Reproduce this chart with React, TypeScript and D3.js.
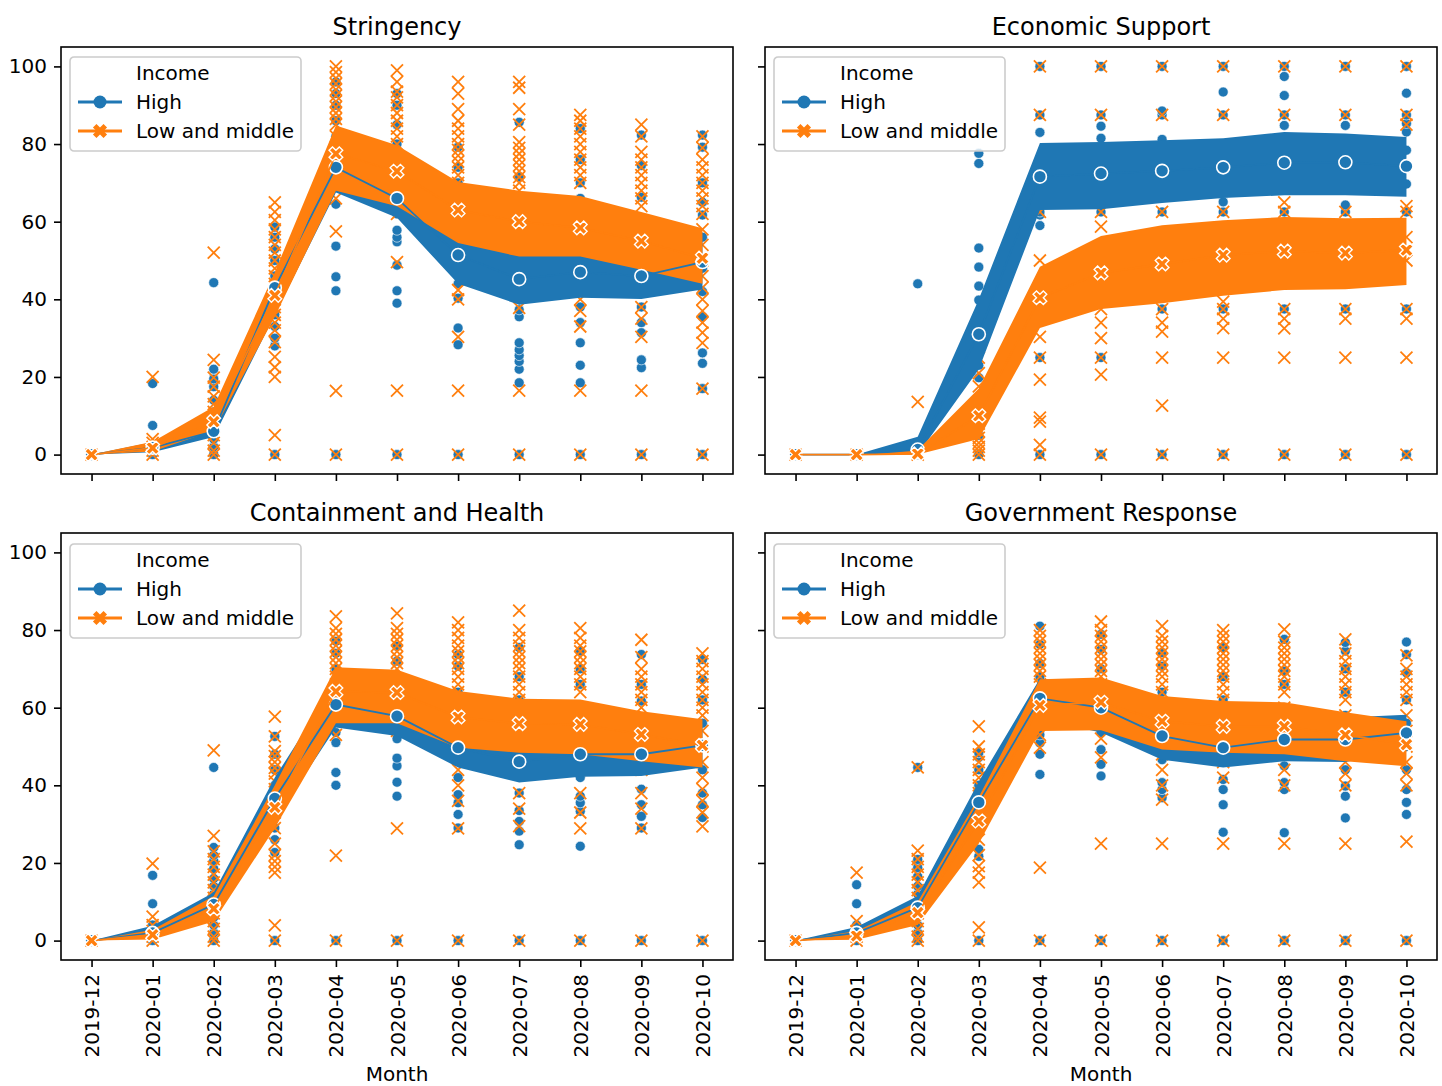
import * as d3 from "d3";
import { useEffect, useRef } from "react";

const months = ["2019-12", "2020-01", "2020-02", "2020-03", "2020-04", "2020-05", "2020-06", "2020-07", "2020-08", "2020-09", "2020-10"];
const yTicks = [0, 20, 40, 60, 80, 100];
const legendTitle = "Income";
const groupNames = ["High", "Low and middle"];

// Stringency
const stringencyHighMean = [0, 1.8, 6, 43, 74, 66, 51.4, 45.2, 47, 46, 49.6];
const stringencyHighLo = [0, 0.6, 4.5, 36, 67.5, 61, 44, 38.6, 40.4, 40.1, 42.5];
const stringencyHighHi = [0, 3.2, 8.5, 46.5, 80.5, 71, 58.8, 51.8, 53.6, 51.9, 56.7];
const stringencyLowMean = [0, 1.7, 8.5, 41, 77.5, 73, 63, 60, 58.4, 55, 50.6];
const stringencyLowLo = [0, 0.8, 6.2, 35.5, 68, 64, 54.5, 51, 51, 47.6, 44];
const stringencyLowHi = [0, 3.3, 12.3, 47, 84.8, 79.7, 70.2, 68, 66.6, 62.5, 58.3];
const stringencyHighPoints = [
  [0],
  [0, 1, 2.5, 7.5, 18.3],
  [0, 2, 4, 6, 8, 11, 14, 17.5, 19.5, 22, 44.3],
  [0, 28, 30, 33, 36, 40, 43, 46, 50, 53, 56, 58.6],
  [0, 42.2, 45.8, 53.7, 64.5, 70, 74, 78, 82, 86, 90, 93, 96],
  [0, 39, 42.2, 48.8, 54.8, 56, 57.8, 62, 66, 70, 75, 80, 85, 90, 93],
  [0, 28.3, 32.6, 40.3, 44, 48, 55, 60, 65, 70, 74, 79.2],
  [0, 18.5, 22, 24, 25.5, 27, 28.8, 35.5, 37.3, 45, 55, 62, 71.5, 85.6],
  [0, 18.5, 23, 28.8, 34, 38, 45, 52, 60, 66, 70, 76, 84],
  [0, 22.4, 24.4, 31.4, 34, 38, 44, 52, 58, 66.3, 74.5, 82.3],
  [0, 17, 23.5, 26.2, 35.5, 42, 48, 56, 61.7, 65, 70, 79.2, 82.3],
];
const stringencyLowPoints = [
  [0],
  [0, 1, 2, 3, 4, 20],
  [0, 1, 3, 5, 7, 9, 11, 13, 15, 17.5, 19.8, 24.4, 52],
  [0, 5, 20, 22.5, 25.2, 29, 32, 34, 36, 38, 40, 42, 44, 46, 48, 50, 52, 54, 56, 58, 60.4, 62.5, 65],
  [0, 16.4, 57.5, 66, 72, 78, 82, 85, 86.5, 88, 89.5, 91, 92.5, 94, 95.5, 97, 98.5, 100],
  [0, 16.5, 49.6, 62, 68, 74, 80, 82, 84, 86, 88, 90, 92, 93.5, 96, 99],
  [0, 16.5, 30.3, 40, 42.4, 50, 58, 66, 70, 72, 74, 75.5, 77, 78.5, 80, 82, 84, 86, 89, 93, 96],
  [0, 16.5, 37.8, 45, 55, 62, 68, 70, 71.5, 73, 74.5, 76, 77.5, 79, 80.5, 85, 89, 94.5, 96],
  [0, 16.5, 33, 37, 40, 48, 56, 64, 70, 72, 74, 76, 78, 80, 82, 84, 86, 87.5],
  [0, 16.5, 30.3, 35, 38, 45, 52, 60, 64, 66, 68, 70, 72, 74, 76, 78, 82, 85],
  [0, 17, 28.8, 31.4, 34, 37, 40, 43, 46, 50, 54, 58, 62, 64, 66, 68, 70, 72, 74, 76, 79, 82],
];

// Economic Support
const econHighMean = [0, 0, 1.3, 31, 71.6, 72.4, 73.1, 74, 75.2, 75.3, 74.3];
const econHighLo = [0, 0, 0, 22, 63, 63.2, 64.8, 66.1, 66.8, 66.8, 66.4];
const econHighHi = [0, 0, 4.6, 40, 80.3, 80.5, 81, 81.5, 83.1, 82.7, 81.8];
const econLowMean = [0, 0, 0.2, 10, 40.4, 46.8, 49.1, 51.4, 52.4, 51.9, 52.7];
const econLowLo = [0, 0, 0, 4, 32.6, 37.5, 39, 40.9, 42.4, 42.6, 43.7];
const econLowHi = [0, 0, 1.2, 17, 48.4, 56.3, 59.1, 60.4, 61.2, 60.9, 61];
const econHighPoints = [
  [0],
  [0],
  [0, 44],
  [0, 5, 10, 15, 19.8, 23, 27, 31, 35, 39.8, 43.4, 48.3, 53.2, 75, 77.6],
  [0, 25, 37.5, 59, 61.7, 62.5, 83, 87.5, 100],
  [0, 25, 62.5, 81.5, 84.6, 87.5, 100],
  [0, 37.5, 62.5, 81.2, 87.5, 88.5, 100],
  [0, 37.5, 62.5, 65.1, 87.5, 93.4, 100],
  [0, 37.5, 62.5, 84.8, 87.5, 92.5, 97.4, 100],
  [0, 37.5, 62.5, 64.3, 84.8, 87.5, 100],
  [0, 37.5, 62.5, 69.7, 78.4, 83.1, 85.3, 87.5, 93.1, 100],
];
const econLowPoints = [
  [0],
  [0],
  [0, 13.6],
  [0, 1, 2, 3, 4.3, 6, 8, 12.5, 17.6, 21, 25],
  [0, 2.5, 8.5, 9.5, 19.3, 25, 30.3, 37.5, 50, 62.5, 87.5, 100],
  [0, 20.6, 25, 30, 34, 37.5, 58.7, 62.5, 87.5, 100],
  [0, 12.6, 25, 31.7, 34, 37.5, 62.5, 87.5, 100],
  [0, 25, 32.6, 35, 37.5, 39.4, 62.5, 87.5, 100],
  [0, 25, 32.5, 35, 37.5, 62.5, 65, 87.5, 100],
  [0, 25, 35, 37.5, 62.5, 87.5, 100],
  [0, 25, 35, 37.5, 50, 56, 62.5, 64, 85, 87.5, 100],
];

// Containment and Health
const chHighMean = [0, 2, 9.3, 36.6, 60.8, 57.8, 49.7, 46.1, 48, 48, 50.3];
const chHighLo = [0, 0.8, 6.5, 31, 54.9, 52.7, 44.6, 40.7, 42.2, 42.4, 44.6];
const chHighHi = [0, 3.8, 12.4, 42, 66.7, 62.9, 54.8, 51.5, 53.8, 53.6, 56];
const chLowMean = [0, 1.5, 8.2, 34.3, 64.2, 63.9, 57.6, 55.9, 55.7, 53.1, 50.3];
const chLowLo = [0, 0.3, 4.9, 29, 56, 56, 49.7, 48.4, 48, 46.2, 44.6];
const chLowHi = [0, 2.8, 11.5, 40, 70.4, 69.8, 64.3, 62.3, 62.1, 59.1, 57];
const chHighPoints = [
  [0],
  [0, 2, 4, 9.5, 16.8],
  [0, 2, 4, 6, 8, 12, 14, 16, 18.5, 20.5, 22, 24, 44.6],
  [0, 22.7, 26, 29, 32, 36, 40, 44, 48, 52.6],
  [0, 40, 43.3, 51, 53.6, 62, 66, 70, 74, 77.1],
  [0, 37.2, 40.8, 45, 47, 52, 60, 66, 72, 75.8],
  [0, 29, 32.5, 35.5, 37.6, 42, 50, 58, 64, 70.7, 73.7],
  [0, 24.7, 28.2, 30.7, 33.5, 38, 45, 55, 62, 68, 75.5],
  [0, 24.3, 33.3, 35.5, 37.2, 42, 52, 60, 66, 70, 74.6],
  [0, 29, 32, 35, 39, 44, 52, 61.7, 66, 73.7],
  [0, 31.7, 35, 38, 44, 50, 56, 62, 67.3, 72.4],
];
const chLowPoints = [
  [0],
  [0, 1, 2.5, 4, 6.2, 19.8],
  [0, 1, 3, 5, 7, 9, 11, 13, 15, 17, 19, 21, 23, 27, 49],
  [0, 3.9, 17.5, 19, 20.5, 22, 25, 29, 33, 37, 39, 41, 43, 44.5, 46, 47.5, 48.8, 52.6, 57.7],
  [0, 21.9, 53, 58, 62, 66, 68, 70, 71.5, 73, 74.5, 76, 77.5, 79, 80.5, 83.5],
  [0, 28.9, 54, 60, 66, 70, 71.5, 73, 74.5, 76, 77.5, 79, 80.5, 84.3],
  [0, 28.9, 36, 40, 44, 50, 58, 64, 66, 68, 70, 71.5, 73, 74.5, 76, 78, 80, 82],
  [0, 29.5, 34, 38, 44, 50, 56, 62, 64, 66, 68, 70, 71.5, 73, 74.5, 76, 78, 80, 85],
  [0, 28.9, 33, 38, 44, 52, 60, 64, 66, 68, 70, 71.5, 73, 74.5, 76, 78, 80.5],
  [0, 28.9, 34, 38, 44, 50, 56, 60, 62, 64, 66, 68, 70, 73, 77.5],
  [0, 29.4, 33, 36, 39, 42, 46, 50, 54, 58, 60, 62, 64, 66, 68, 70, 72, 74],
];

// Government Response
const grHighMean = [0, 2, 8.5, 35.6, 62.4, 60, 52.7, 49.7, 51.8, 51.8, 53.5];
const grHighLo = [0, 0.8, 5.5, 30, 57, 53.6, 46.6, 44.6, 46.2, 46, 48.8];
const grHighHi = [0, 3.5, 11.5, 41, 67.5, 66, 58.5, 55, 57.5, 57.5, 58.2];
const grLowMean = [0, 1.2, 7.2, 30.8, 60.6, 61.4, 56.5, 55.2, 55.2, 53, 50.5];
const grLowLo = [0, 0.2, 4, 25, 54, 54.2, 49.2, 48.4, 48, 46.2, 44.9];
const grLowHi = [0, 2.5, 10, 37, 67.3, 67.8, 63, 61.7, 61.4, 58.8, 56.5];
const grHighPoints = [
  [0],
  [0, 2, 4, 9.5, 14.4],
  [0, 2, 4, 6, 8, 10, 12, 14, 16.5, 18.8, 20.9, 44.6],
  [0, 21.7, 23.5, 28, 32, 36, 40, 44, 47.2, 48.4],
  [0, 42.8, 48, 50.9, 53, 58, 64, 68, 71.4, 76.3, 81],
  [0, 42.4, 45.4, 49.2, 53.6, 58, 64, 70, 75, 78.9],
  [0, 36.8, 38.9, 40.7, 46.6, 52, 58, 64, 70.7, 74.2],
  [0, 27.9, 35, 38.9, 41.5, 46, 54, 62, 68, 75.5],
  [0, 27.8, 38.9, 40.7, 45, 52, 60, 66, 69.4, 77.6],
  [0, 31.6, 37.2, 39.8, 44, 50, 58, 64, 70, 74.6, 76.8],
  [0, 32.5, 35.6, 38.9, 44, 50, 56, 62, 69, 73.7, 76.9],
];
const grLowPoints = [
  [0],
  [0, 1, 2.5, 5, 17.5],
  [0, 1, 3, 5, 7, 9, 11, 13, 15, 17, 19, 21, 23.2, 44.6],
  [0, 3.4, 15, 17.5, 19.2, 22, 26, 30, 34, 36, 38, 40, 42, 44, 46, 48, 50, 55.2],
  [0, 18.8, 49.7, 53, 58, 62, 66, 68, 69.5, 71, 72.5, 74, 75.5, 77, 78.5, 80],
  [0, 25, 47.2, 52, 58, 62, 66, 68, 69.5, 71, 72.5, 74, 75.5, 77, 78.5, 80, 82.2],
  [0, 25, 36.3, 40, 44, 48, 54, 60, 64, 66, 68, 69.5, 71, 72.5, 74, 75.5, 77, 78.5, 81],
  [0, 25, 42, 46, 52, 58, 62, 64, 66, 68, 69.5, 71, 72.5, 74, 75.5, 77, 78.5, 80],
  [0, 25, 40, 44, 48, 54, 60, 64, 66, 68, 69.5, 71, 72.5, 74, 75.5, 77, 80.2],
  [0, 25, 40, 43, 46, 50, 54, 58, 62, 64, 66, 68, 70, 72, 74, 77.6],
  [0, 25.5, 40, 43, 46, 50, 54, 58, 62, 64, 66, 68, 70, 73.5],
];

const blue = "#1f77b4";
const orange = "#ff7f0e";
const font = "DejaVu Sans";

const panels = [
  { title: "Stringency", col: 0, row: 0, highPoints: stringencyHighPoints, lowPoints: stringencyLowPoints, highMean: stringencyHighMean, highLo: stringencyHighLo, highHi: stringencyHighHi, lowMean: stringencyLowMean, lowLo: stringencyLowLo, lowHi: stringencyLowHi },
  { title: "Economic Support", col: 1, row: 0, highPoints: econHighPoints, lowPoints: econLowPoints, highMean: econHighMean, highLo: econHighLo, highHi: econHighHi, lowMean: econLowMean, lowLo: econLowLo, lowHi: econLowHi },
  { title: "Containment and Health", col: 0, row: 1, highPoints: chHighPoints, lowPoints: chLowPoints, highMean: chHighMean, highLo: chHighLo, highHi: chHighHi, lowMean: chLowMean, lowLo: chLowLo, lowHi: chLowHi },
  { title: "Government Response", col: 1, row: 1, highPoints: grHighPoints, lowPoints: grLowPoints, highMean: grHighMean, highLo: grHighLo, highHi: grHighHi, lowMean: grLowMean, lowLo: grLowLo, lowHi: grLowHi },
];

const colLeft = [61, 765];
const rowTop = [47, 533];
const axW = 672;
const axH = 427;

// matplotlib-like filled "X" marker
function xFilledPath(cx: number, cy: number, size: number) {
  const base = [[1, 0], [2, 0], [2, 1], [3, 1], [3, 2], [2, 2], [2, 3], [1, 3], [1, 2], [0, 2], [0, 1], [1, 1]];
  const c = Math.SQRT1_2;
  const pts = base.map(([px, py]) => {
    const x = (px / 3 - 0.5) * size;
    const y = (py / 3 - 0.5) * size;
    return [cx + x * c - y * c, cy + x * c + y * c];
  });
  return "M" + pts.map(p => p[0].toFixed(2) + "," + p[1].toFixed(2)).join("L") + "Z";
}

function xLinePath(cx: number, cy: number, h: number) {
  return `M${cx - h},${cy - h}L${cx + h},${cy + h}M${cx - h},${cy + h}L${cx + h},${cy - h}`;
}

function Panel({ p, idx }: { p: any, idx: number }) {
  const axisx: any = useRef();
  const axisy: any = useRef();
  const left = colLeft[p.col];
  const top = rowTop[p.row];
  const showX = p.row === 1;
  const showY = p.col === 0;

  const x = d3.scaleLinear([-0.5, months.length - 0.5], [0, axW]);
  const y = d3.scaleLinear([-5, 105], [axH, 0]);

  const band = (lo: number[], hi: number[]) =>
    d3.area<number>()
      .x((_, i) => x(i))
      .y0((_, i) => y(lo[i]))
      .y1((_, i) => y(hi[i]))(lo) as string;

  const line = d3.line<number>()
    .x((_, i) => x(i))
    .y(d => y(d));

  useEffect(() => {
    const gx = d3.select(axisx.current)
      .call(d3.axisBottom(x)
        .tickValues(d3.range(months.length))
        .tickFormat((i: any) => showX ? months[i] : "")
        .tickSize(7)
        .tickPadding(7) as any)
      .attr("font-size", 20)
      .attr("font-family", font);
    gx.select(".domain").remove();
    gx.selectAll(".tick line").attr("stroke", "#000").attr("stroke-width", 1.6);
    gx.selectAll(".tick text")
      .attr("fill", "#000")
      .attr("transform", "rotate(-90)")
      .attr("x", -14)
      .attr("y", 0)
      .attr("dy", "0.35em")
      .attr("text-anchor", "end");

    const gy = d3.select(axisy.current)
      .call(d3.axisLeft(y)
        .tickValues(yTicks)
        .tickFormat((d: any) => showY ? String(d) : "")
        .tickSize(7)
        .tickPadding(7) as any)
      .attr("font-size", 20)
      .attr("font-family", font);
    gy.select(".domain").remove();
    gy.selectAll(".tick line").attr("stroke", "#000").attr("stroke-width", 1.6);
    gy.selectAll(".tick text").attr("fill", "#000");
  }, [showX, showY, x, y]);

  const clipId = `clip-${idx}`;
  const rows = [26, 55, 84];
  const legTop = p.row === 0 ? 10 : 11;

  return (
    <g transform={`translate(${left},${top})`}>
      <defs>
        <clipPath id={clipId}>
          <rect x={0} y={0} width={axW} height={axH} />
        </clipPath>
      </defs>
      <text x={axW / 2} y={-12.5} textAnchor="middle" fontSize={24} fontFamily={font} fill="#000">
        {p.title}
      </text>
      <g clipPath={`url(#${clipId})`}>
        <g>
          {p.highPoints.map((vals: number[], i: number) =>
            vals.map((v, j) => (
              <circle key={`h${i}-${j}`} cx={x(i)} cy={y(v)} r={5} fill={blue} stroke="#fff" strokeWidth={0.6} />
            )))}
        </g>
        <g fill="none" stroke={orange} strokeWidth={1.8}>
          {p.lowPoints.map((vals: number[], i: number) =>
            vals.map((v, j) => (
              <path key={`l${i}-${j}`} d={xLinePath(x(i), y(v), 6)} />
            )))}
        </g>
        <path d={band(p.highLo, p.highHi)} fill={blue} />
        <path d={band(p.lowLo, p.lowHi)} fill={orange} />
        <path d={line(p.highMean) as string} fill="none" stroke={blue} strokeWidth={1.8} />
        {p.highMean.map((v: number, i: number) => (
          <circle key={`hm${i}`} cx={x(i)} cy={y(v)} r={6.5} fill={blue} stroke="#fff" strokeWidth={1.6} />
        ))}
        <path d={line(p.lowMean) as string} fill="none" stroke={orange} strokeWidth={1.8} />
        {p.lowMean.map((v: number, i: number) => (
          <path key={`lm${i}`} d={xFilledPath(x(i), y(v), 14.5)} fill={orange} stroke="#fff" strokeWidth={1.4} />
        ))}
      </g>
      <g ref={axisx} transform={`translate(0,${axH})`} />
      <g ref={axisy} />
      <rect x={0} y={0} width={axW} height={axH} fill="none" stroke="#000" strokeWidth={1.6} />
      <g transform={`translate(9,${legTop})`}>
        <rect x={0} y={0} width={231} height={94} rx={4} fill="#fff" fillOpacity={0.8} stroke="#cccccc" strokeWidth={1.6} />
      </g>
      <g fontFamily={font} fontSize={20} fill="#000">
        <text x={75} y={rows[0] + legTop - 10} dominantBaseline="central">{legendTitle}</text>
        <line x1={17} x2={61} y1={rows[1] + legTop - 10} y2={rows[1] + legTop - 10} stroke={blue} strokeWidth={2.8} />
        <circle cx={39} cy={rows[1] + legTop - 10} r={6.5} fill={blue} />
        <text x={75} y={rows[1] + legTop - 10} dominantBaseline="central">{groupNames[0]}</text>
        <line x1={17} x2={61} y1={rows[2] + legTop - 10} y2={rows[2] + legTop - 10} stroke={orange} strokeWidth={2.8} />
        <path d={xFilledPath(39, rows[2] + legTop - 10, 15)} fill={orange} />
        <text x={75} y={rows[2] + legTop - 10} dominantBaseline="central">{groupNames[1]}</text>
      </g>
      {showX && (
        <text x={axW / 2} y={axH + 121} textAnchor="middle" fontSize={20} fontFamily={font} fill="#000">
          Month
        </text>
      )}
    </g>
  );
}

export default function App() {
  return (
    <svg width={1442} height={1086} style={{ position: "absolute", left: 0, top: 0, background: "#fff" }}>
      <rect x={0} y={0} width={1442} height={1086} fill="#fff" />
      {panels.map((p, i) => (
        <Panel key={p.title} p={p} idx={i} />
      ))}
    </svg>
  );
}
